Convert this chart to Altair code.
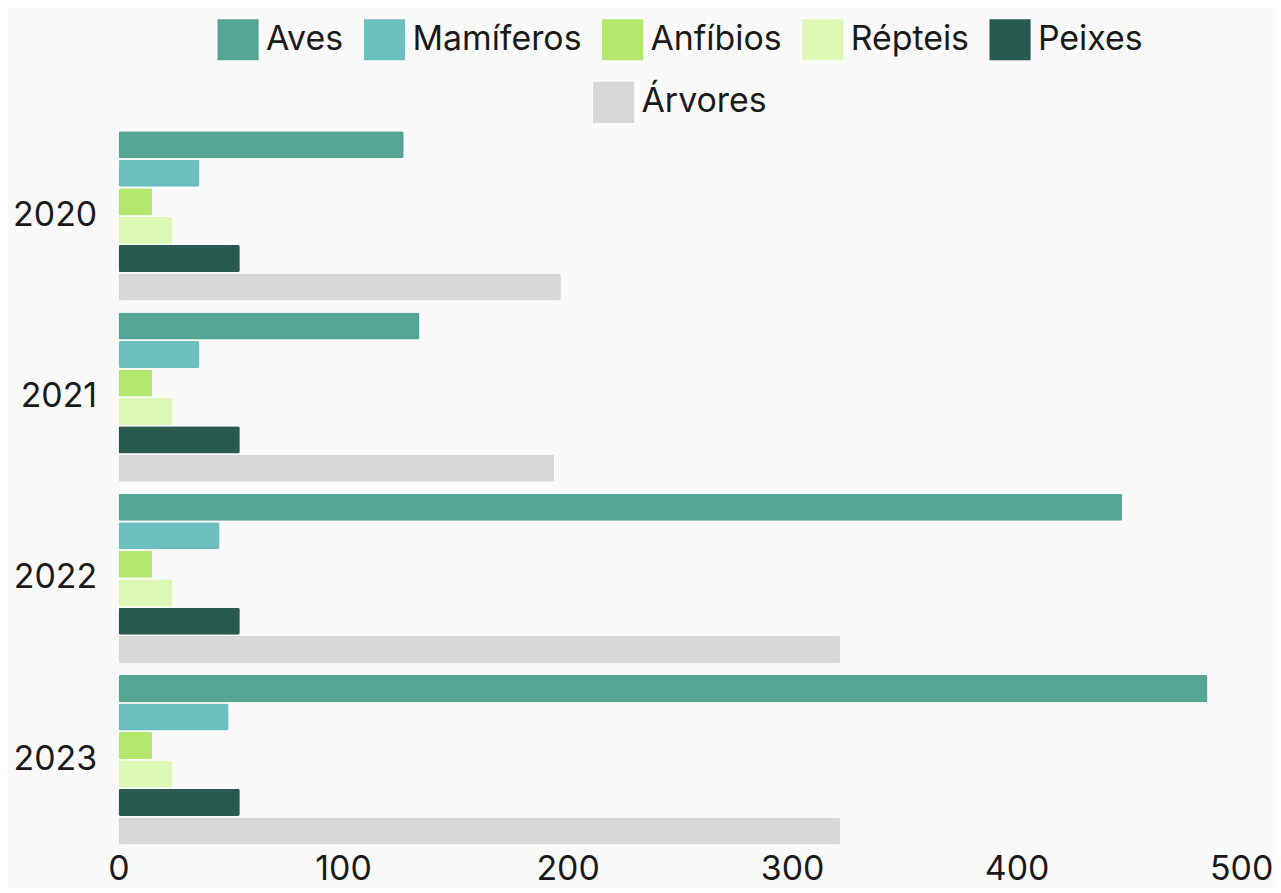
import altair as alt
import pandas as pd

years = ["2020", "2021", "2022", "2023"]
series = ["Aves", "Mamíferos", "Anfíbios", "Répteis", "Peixes", "Árvores"]
colors = ["#55a594", "#6cc0c0", "#b4e86c", "#dcf8b4", "#285a50", "#d8d8d8"]

aves = [127, 134, 447, 485]
mamiferos = [36, 36, 45, 49]
anfibios = [15, 15, 15, 15]
repteis = [24, 24, 24, 24]
peixes = [54, 54, 54, 54]
arvores = [197, 194, 321.5, 321.5]

values = [aves, mamiferos, anfibios, repteis, peixes, arvores]
rows = []
for s, vals in zip(series, values):
    for y, v in zip(years, vals):
        rows.append({"Ano": y, "Grupo": s, "Valor": v})
df = pd.DataFrame(rows)

FONT = "Inter"
FS = 34

y_enc = alt.Y("Ano:N", sort=years, title=None,
              scale=alt.Scale(paddingInner=0.066, paddingOuter=0.033),
              axis=alt.Axis(labelFontSize=FS, labelPadding=22, domain=False, ticks=False,
                            labelColor="#1a1a1a", labelFont=FONT))
x_enc = alt.X("Valor:Q", title=None,
              scale=alt.Scale(domain=[0, 500], nice=False),
              axis=alt.Axis(values=[0, 100, 200, 300, 400, 500], labelFontSize=FS,
                            labelPadding=2, domain=False, ticks=False, grid=False,
                            labelFlush=False,
                            labelColor="#1a1a1a", labelFont=FONT))
yoff = alt.YOffset("Grupo:N", sort=series,
                   scale=alt.Scale(domain=series, paddingInner=0.05, paddingOuter=0))

base = alt.Chart(df).mark_bar(cornerRadius=2)

legend_common = dict(title=None, orient="none", direction="horizontal",
                     symbolType="square", symbolSize=1700, symbolStrokeWidth=0,
                     labelFontSize=FS, labelFont=FONT, labelColor="#1a1a1a",
                     labelLimit=400, labelOffset=7, columnPadding=20, symbolOpacity=1)

layer1 = base.transform_filter(
    alt.FieldOneOfPredicate(field="Grupo", oneOf=series[:5])
).encode(
    x=x_enc, y=y_enc, yOffset=yoff,
    color=alt.Color("Grupo:N", sort=series[:5],
                    scale=alt.Scale(domain=series[:5], range=colors[:5]),
                    legend=alt.Legend(legendX=99, legendY=-107, **legend_common)),
)

layer2 = base.transform_filter(
    alt.FieldEqualPredicate(field="Grupo", equal=series[5])
).encode(
    x=x_enc, y=y_enc, yOffset=yoff,
    color=alt.Color("Grupo:N",
                    scale=alt.Scale(domain=series[5:], range=colors[5:]),
                    legend=alt.Legend(legendX=476, legendY=-44, **legend_common)),
)

chart = alt.layer(layer1, layer2).resolve_scale(color="independent").properties(
    width=1127, height=728,
    background="#fafafa",
    padding={"left": 4, "top": 9, "right": 0, "bottom": 0},
).configure_view(stroke=None)

chart.save("out.html", embed_options={"renderer": "svg", "actions": False})
